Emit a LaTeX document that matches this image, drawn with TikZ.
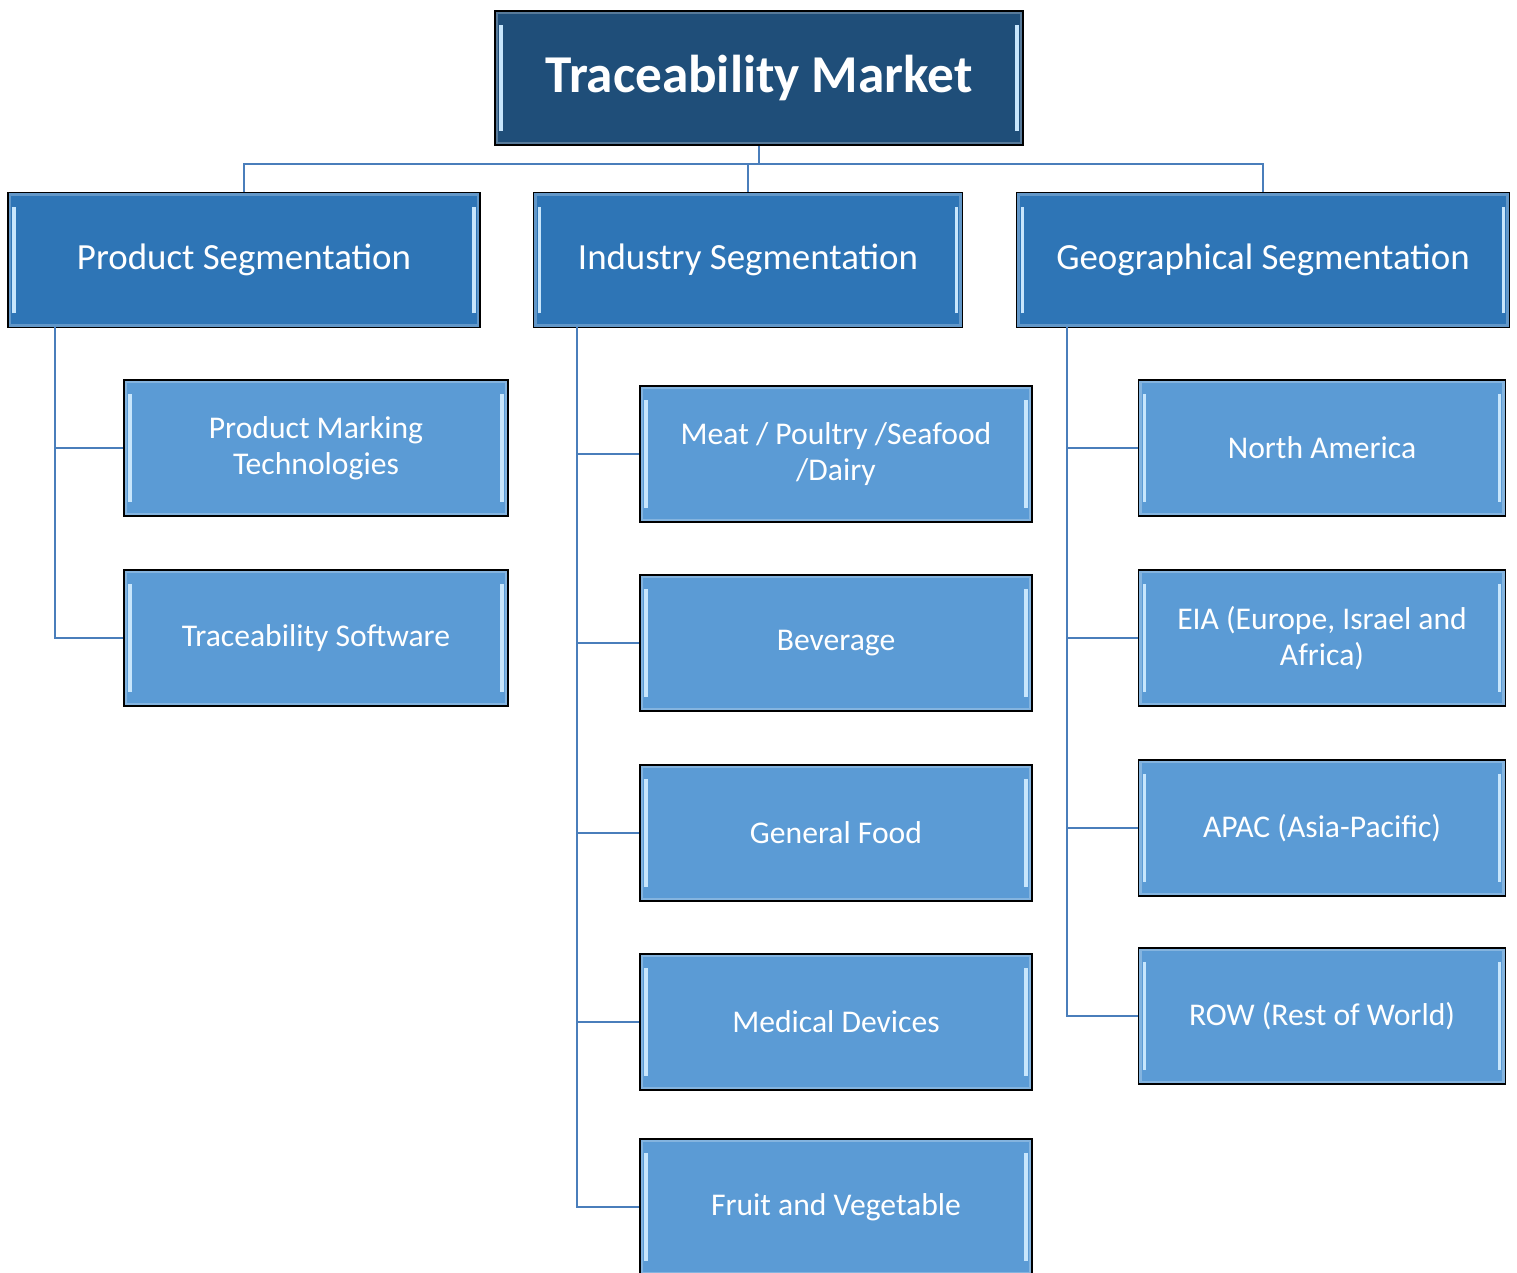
\documentclass[tikz,border=0pt]{standalone}
\usepackage{fontspec}
\setmainfont{Carlito}
\definecolor{tmdark}{RGB}{31,78,121}
\definecolor{tmmid}{RGB}{46,117,182}
\definecolor{tmlight}{RGB}{91,155,213}
\definecolor{tmline}{RGB}{74,126,187}
\definecolor{tmshine}{RGB}{200,230,252}

\begin{document}
\begin{tikzpicture}[x=0.02cm,y=-0.02cm,
    bevel/.style={path picture={
      \draw[white,opacity=0.25,line width=3.5pt] (path picture bounding box.south west) rectangle (path picture bounding box.north east);
      \draw[tmshine,line width=2pt] ([xshift=3.5pt,yshift=8pt]path picture bounding box.south west) -- ([xshift=3.5pt,yshift=-8pt]path picture bounding box.north west);
      \draw[tmshine,line width=2pt] ([xshift=-3.5pt,yshift=8pt]path picture bounding box.south east) -- ([xshift=-3.5pt,yshift=-8pt]path picture bounding box.north east);}},
    box/.style={draw=black,line width=0.9pt,text=white,align=center,inner sep=0pt,bevel},
    rootbox/.style={box,fill=tmdark,minimum width=10.56cm,minimum height=2.68cm,font=\fontsize{30.3}{36}\selectfont\bfseries},
    segbox/.style={box,fill=tmmid,minimum height=2.7cm,font=\fontsize{21}{25}\selectfont},
    itembox/.style={box,fill=tmlight,minimum height=2.72cm,font=\fontsize{18}{20.5}\selectfont},
    link/.style={draw=tmline,line width=1.4pt}]

\useasboundingbox (0,0) rectangle (1517,1272);

% Root
\node[rootbox] (root) at (759,78) {Traceability Market};

% Segmentations
\node[segbox,minimum width=9.44cm] (prod) at (244,260) {Product Segmentation};
\node[segbox,minimum width=8.58cm] (ind) at (748,260) {Industry Segmentation};
\node[segbox,minimum width=9.86cm] (geo) at (1263,260) {Geographical Segmentation};

% Product items
\node[itembox,minimum width=7.68cm] (pmt) at (316,448) {Product Marking\\Technologies};
\node[itembox,minimum width=7.68cm] (tsw) at (316,638) {Traceability Software};

% Industry items
\node[itembox,minimum width=7.84cm] (meat) at (836,454) {Meat / Poultry /Seafood\\/Dairy};
\node[itembox,minimum width=7.84cm] (bev) at (836,643) {Beverage};
\node[itembox,minimum width=7.84cm] (food) at (836,833) {General Food};
\node[itembox,minimum width=7.84cm] (med) at (836,1022) {Medical Devices};
\node[itembox,minimum width=7.84cm] (fruit) at (836,1207) {Fruit and Vegetable};

% Geographical items
\node[itembox,minimum width=7.34cm] (na) at (1322,448) {North America};
\node[itembox,minimum width=7.34cm] (eia) at (1322,638) {EIA (Europe, Israel and\\Africa)};
\node[itembox,minimum width=7.34cm] (apac) at (1322,828) {APAC (Asia-Pacific)};
\node[itembox,minimum width=7.34cm] (row) at (1322,1016) {ROW (Rest of World)};

% Connections
\draw[link] (root.south) -- ++(0,18) coordinate (bus);
\draw[link] (prod.north) |- (bus) -| (geo.north);
\draw[link] (ind.north) -- (ind.north |- bus);

\coordinate (prodtrunk) at (55,327);
\coordinate (indtrunk) at (577,327);
\coordinate (geotrunk) at (1067,327);
\foreach \n in {pmt,tsw} \draw[link] (prodtrunk) |- (\n.west);
\foreach \n in {meat,bev,food,med,fruit} \draw[link] (indtrunk) |- (\n.west);
\foreach \n in {na,eia,apac,row} \draw[link] (geotrunk) |- (\n.west);
\end{tikzpicture}
\end{document}
